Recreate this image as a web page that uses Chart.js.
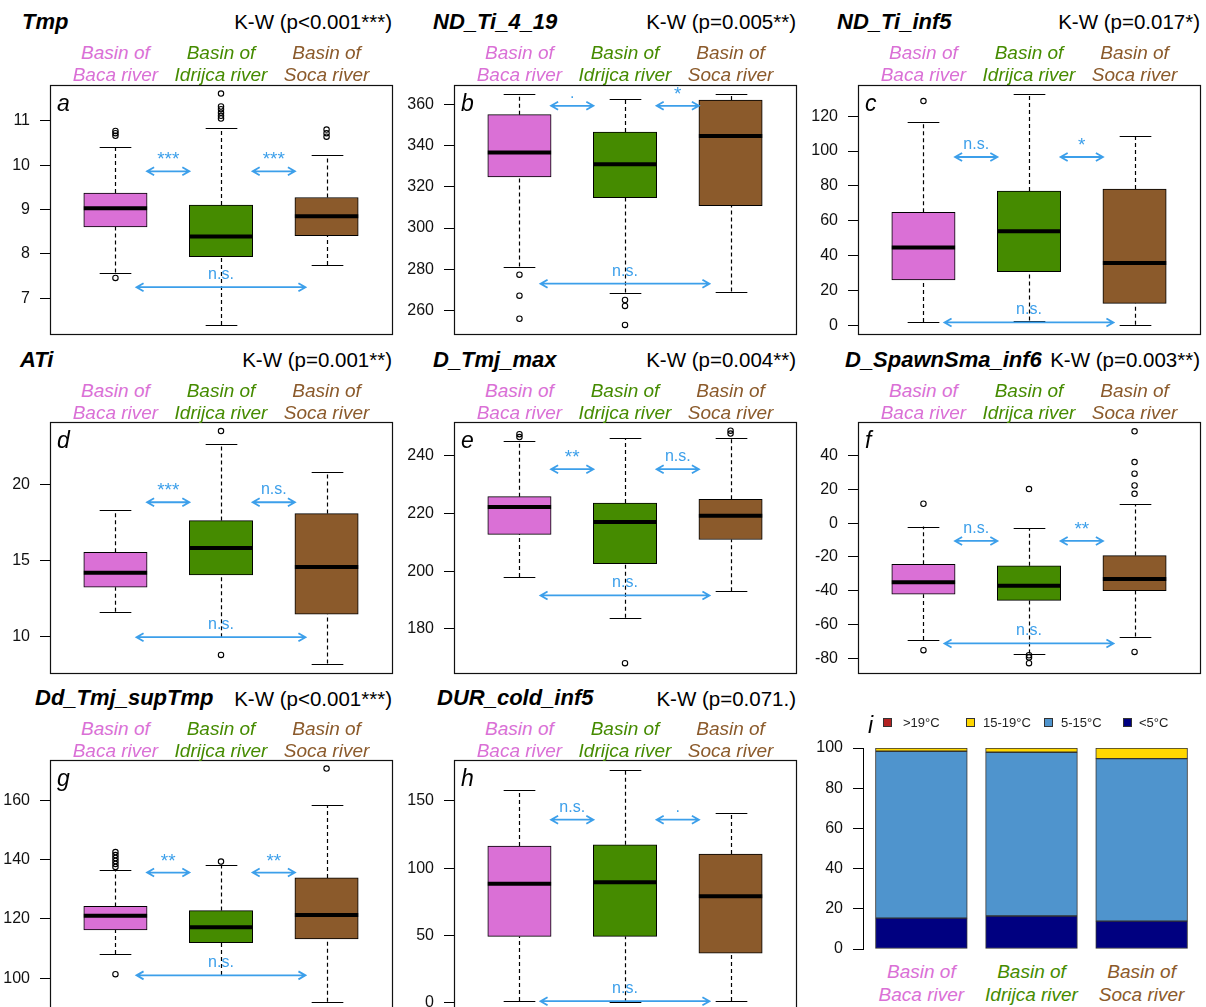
<!DOCTYPE html>
<html>
<head>
<meta charset="utf-8">
<title>Thermal indices by basin</title>
<script src="https://cdn.jsdelivr.net/npm/chart.js@4.4.1/dist/chart.umd.min.js"></script>
<style>
  html, body { margin: 0; padding: 0; background: #fff; }
  body { position: relative; width: 1206px; height: 1007px; overflow: hidden; font-family: "Liberation Sans", Arial, sans-serif; }
  canvas { position: absolute; }
  .txt { position: absolute; white-space: nowrap; }
  .key { position: absolute; width: 9px; height: 9px; border: 1px solid #333; box-sizing: border-box; }
</style>
</head>
<body>
<script>
// ### data ###
const basinLabels = ["Baca river", "Idrijca river", "Soca river"];
const basinX = [1, 2, 3];

const variableNames = ["Tmp", "ND_Ti_4_19", "ND_Ti_inf5", "ATi", "D_Tmj_max", "D_SpawnSma_inf6", "Dd_Tmj_supTmp", "DUR_cold_inf5"];
const kwTests = ["K-W (p<0.001***)", "K-W (p=0.005**)", "K-W (p=0.017*)", "K-W (p=0.001**)", "K-W (p=0.004**)", "K-W (p=0.003**)", "K-W (p<0.001***)", "K-W (p=0.071.)"];
const panelLetters = ["a", "b", "c", "d", "e", "f", "g", "h"];

// box stats per basin: [lower whisker, Q1, median, Q3, upper whisker]
// sig labels: Baca-Idrijca, Idrijca-Soca, Baca-Soca
const tmpBox = [[7.58, 8.61, 9.03, 9.37, 10.41], [6.40, 7.94, 8.39, 9.10, 10.83], [7.75, 8.41, 8.85, 9.27, 10.23]];
const tmpOutliers = [[10.77, 10.72, 10.66, 7.46], [11.61, 11.32, 11.26, 11.18, 11.11, 11.05], [10.80, 10.72, 10.64]];
const tmpSig = ["***", "***", "n.s."];
const tmpArrowY = [9.86, 9.86, 7.25];
const tmpRange = [6.196, 11.804];
const tmpTicks = [7, 8, 9, 10, 11];

const ndTi419Box = [[281.3, 324.8, 336.7, 355.0, 365.0], [268.7, 314.7, 330.9, 346.6, 362.6], [269.2, 310.9, 344.6, 362.1, 365.0]];
const ndTi419Outliers = [[277.4, 267.2, 256.0], [265.1, 262.2, 253.0], []];
const ndTi419Sig = [".", "*", "n.s."];
const ndTi419ArrowY = [359.3, 359.3, 273.0];
const ndTi419Range = [248.6, 369.4];
const ndTi419Ticks = [260, 280, 300, 320, 340, 360];

const ndTiInf5Box = [[2.1, 26.3, 44.8, 65.0, 116.4], [3.0, 31.0, 54.1, 77.1, 132.6], [0.6, 12.8, 36.0, 78.3, 108.8]];
const ndTiInf5Outliers = [[128.6], [], []];
const ndTiInf5Sig = ["n.s.", "*", "n.s."];
const ndTiInf5ArrowY = [96.6, 96.6, 1.9];
const ndTiInf5Range = [-4.7, 137.8];
const ndTiInf5Ticks = [0, 20, 40, 60, 80, 100, 120];

const aTiBox = [[11.61, 13.23, 14.18, 15.53, 18.30], [9.93, 14.03, 15.81, 17.62, 22.66], [8.19, 11.45, 14.56, 18.08, 20.83]];
const aTiOutliers = [[], [23.52, 8.76], []];
const aTiSig = ["***", "n.s.", "n.s."];
const aTiArrowY = [18.83, 18.83, 9.93];
const aTiRange = [7.57, 24.12];
const aTiTicks = [10, 15, 20];

const dTmjMaxBox = [[198.0, 212.7, 222.1, 225.7, 244.9], [183.9, 202.6, 217.0, 223.5, 246.0], [193.0, 210.9, 219.1, 224.8, 246.0]];
const dTmjMaxOutliers = [[247.3, 246.3], [168.2], [248.5, 247.5]];
const dTmjMaxSig = ["**", "n.s.", "n.s."];
const dTmjMaxArrowY = [235.2, 235.2, 191.6];
const dTmjMaxRange = [164.8, 251.5];
const dTmjMaxTicks = [180, 200, 220, 240];

const dSpawnBox = [[-69.1, -42.1, -35.0, -24.3, -2.0], [-77.2, -45.7, -37.0, -25.2, -3.0], [-67.1, -40.0, -33.1, -19.2, 11.3]];
const dSpawnOutliers = [[11.5, -75.2], [20.2, -78.2, -79.5, -82.9], [54.4, 36.2, 29.3, 22.3, 17.4, -76.2]];
const dSpawnSig = ["n.s.", "**", "n.s."];
const dSpawnArrowY = [-10.5, -10.5, -71.2];
const dSpawnRange = [-88.7, 59.9];
const dSpawnTicks = [-80, -60, -40, -20, 0, 20, 40];

const ddTmjBox = [[108.2, 116.3, 121.1, 124.2, 136.4], [101.1, 112.0, 117.2, 122.8, 138.3], [92.1, 113.3, 121.3, 133.8, 158.2]];
const ddTmjOutliers = [[142.5, 141.5, 140.5, 139.5, 138.5, 137.5, 101.4], [139.3], [170.6]];
const ddTmjSig = ["**", "**", "n.s."];
const ddTmjArrowY = [135.6, 135.6, 101.0];
const ddTmjRange = [89.0, 173.5];
const ddTmjTicks = [100, 120, 140, 160];

const durColdBox = [[1.5, 49.3, 88.4, 116.4, 157.7], [0.5, 49.3, 89.6, 117.3, 172.8], [1.5, 36.9, 79.2, 110.4, 140.6]];
const durColdOutliers = [[], [], []];
const durColdSig = ["n.s.", ".", "n.s."];
const durColdArrowY = [135.9, 135.9, 1.3];
const durColdRange = [-6.0, 180.2];
const durColdTicks = [0, 50, 100, 150];

// panel i: share of days per temperature class (%)
const tempClasses = [">19°C", "15-19°C", "5-15°C", "<5°C"];
const barX = [0.7, 1.9, 3.1];
const above19 = [0, 0, 0];
const from15to19 = [1.6, 2.1, 5.3];
const from5to15 = [83.0, 81.5, 80.8];
const below5 = [15.4, 16.4, 13.9];
const pctRange = [0, 100];
const pctTicks = [0, 20, 40, 60, 80, 100];

// ### colors ###
const BLACK = "#000";
const ARROW_BLUE = "#3c9fea";
const BASIN_COLORS = ["#da70d6", "#458b00", "#8b5a2b"];
const CLASS_COLORS = ["#b22222", "#ffd700", "#4f94cd", "#000080"];
const FONT = '"Liberation Sans", Arial, sans-serif';

// ### layout ###
const COL_LEFT = [50, 454, 858];
const ROW_TOP = [85, 422, 760];
const ROW_H = [249, 251, 251];
const PLOT_W = 342;
const AXIS_W = 50;
const PAD = 10;
const X_MIN = 0.38;
const X_MAX = 3.62;
const BOX_W = 0.6;
const ARROW_SPANS = [[1.3, 1.7], [2.3, 2.7], [1.2, 2.8]];
const TITLE_X = [22, 433, 837, 20, 433, 845, 35, 437];
const TITLE_BASE = [29.3, 367.5, 706];
const GROUP_BASE = [[59.3, 81], [397.3, 419.3], [735.3, 757.3]];

Chart.defaults.font.family = FONT;

const panels = [
  { box: tmpBox, outliers: tmpOutliers, sig: tmpSig, arrowY: tmpArrowY, range: tmpRange, ticks: tmpTicks },
  { box: ndTi419Box, outliers: ndTi419Outliers, sig: ndTi419Sig, arrowY: ndTi419ArrowY, range: ndTi419Range, ticks: ndTi419Ticks },
  { box: ndTiInf5Box, outliers: ndTiInf5Outliers, sig: ndTiInf5Sig, arrowY: ndTiInf5ArrowY, range: ndTiInf5Range, ticks: ndTiInf5Ticks },
  { box: aTiBox, outliers: aTiOutliers, sig: aTiSig, arrowY: aTiArrowY, range: aTiRange, ticks: aTiTicks },
  { box: dTmjMaxBox, outliers: dTmjMaxOutliers, sig: dTmjMaxSig, arrowY: dTmjMaxArrowY, range: dTmjMaxRange, ticks: dTmjMaxTicks },
  { box: dSpawnBox, outliers: dSpawnOutliers, sig: dSpawnSig, arrowY: dSpawnArrowY, range: dSpawnRange, ticks: dSpawnTicks },
  { box: ddTmjBox, outliers: ddTmjOutliers, sig: ddTmjSig, arrowY: ddTmjArrowY, range: ddTmjRange, ticks: ddTmjTicks },
  { box: durColdBox, outliers: durColdOutliers, sig: durColdSig, arrowY: durColdArrowY, range: durColdRange, ticks: durColdTicks },
];

// ### helpers ###
function addText(text, x, baseline, size, style, color, align) {
  const el = document.createElement("div");
  el.className = "txt";
  el.textContent = text;
  el.style.font = `${style} ${size}px ${FONT}`;
  el.style.lineHeight = size + "px";
  el.style.left = x + "px";
  el.style.top = baseline - 0.8465 * size + "px";
  el.style.color = color;
  if (align === "center") el.style.transform = "translateX(-50%)";
  if (align === "right") el.style.transform = "translateX(-100%)";
  document.body.appendChild(el);
}

function addCanvas(left, top, width, height) {
  const canvas = document.createElement("canvas");
  canvas.width = width;
  canvas.height = height;
  canvas.style.left = left + "px";
  canvas.style.top = top + "px";
  canvas.style.width = width + "px";
  canvas.style.height = height + "px";
  document.body.appendChild(canvas);
  return canvas;
}

function hLine(ctx, x1, x2, y) {
  ctx.beginPath();
  ctx.moveTo(x1, y);
  ctx.lineTo(x2, y);
  ctx.stroke();
}

function vLine(ctx, x, y1, y2) {
  ctx.beginPath();
  ctx.moveTo(x, y1);
  ctx.lineTo(x, y2);
  ctx.stroke();
}

function drawArrow(ctx, x1, x2, y) {
  const hx = 7;
  const hy = 4;
  ctx.beginPath();
  ctx.moveTo(x1, y);
  ctx.lineTo(x2, y);
  ctx.moveTo(x1 + hx, y - hy);
  ctx.lineTo(x1, y);
  ctx.lineTo(x1 + hx, y + hy);
  ctx.moveTo(x2 - hx, y - hy);
  ctx.lineTo(x2, y);
  ctx.lineTo(x2 - hx, y + hy);
  ctx.stroke();
}

function yAxis(range, ticks, showBorder, padding) {
  return {
    type: "linear",
    min: range[0],
    max: range[1],
    beginAtZero: false,
    afterFit: (scale) => {
      // fixed axis width, and no extra room for the end labels
      scale.width = AXIS_W;
      scale.paddingTop = 0;
      scale.paddingBottom = 0;
    },
    afterBuildTicks: (scale) => {
      scale.ticks = ticks.map((v) => ({ value: v }));
    },
    ticks: { padding: padding, color: "#111", font: { size: 16 }, autoSkip: false },
    grid: { drawOnChartArea: false, drawTicks: true, tickLength: 10, color: BLACK, lineWidth: 1 },
    border: { display: showBorder, color: BLACK, width: 1 },
  };
}

// whiskers, medians, arrows and frame of one box panel
function makeBoxPlugin(p) {
  return {
    id: "boxExtras",
    beforeDatasetsDraw(chart) {
      const { ctx } = chart;
      const { x, y } = chart.scales;
      ctx.save();
      ctx.strokeStyle = BLACK;
      ctx.lineWidth = 1.2;
      p.box.forEach((s, i) => {
        const cx = Math.round(x.getPixelForValue(basinX[i])) + 0.5;
        const half = (x.getPixelForValue(basinX[i] + BOX_W / 4) - x.getPixelForValue(basinX[i]));
        ctx.setLineDash([4, 3]);
        vLine(ctx, cx, y.getPixelForValue(s[0]), y.getPixelForValue(s[1]));
        vLine(ctx, cx, y.getPixelForValue(s[3]), y.getPixelForValue(s[4]));
        ctx.setLineDash([]);
        hLine(ctx, cx - half, cx + half, Math.round(y.getPixelForValue(s[0])) + 0.5);
        hLine(ctx, cx - half, cx + half, Math.round(y.getPixelForValue(s[4])) + 0.5);
      });
      ctx.restore();
    },
    afterDatasetsDraw(chart) {
      const { ctx } = chart;
      const { x, y } = chart.scales;
      ctx.save();
      ctx.strokeStyle = BLACK;
      ctx.lineWidth = 4;
      p.box.forEach((s, i) => {
        const x1 = x.getPixelForValue(basinX[i] - BOX_W / 2);
        const x2 = x.getPixelForValue(basinX[i] + BOX_W / 2);
        hLine(ctx, x1, x2, y.getPixelForValue(s[2]));
      });
      ctx.strokeStyle = ARROW_BLUE;
      ctx.fillStyle = ARROW_BLUE;
      ctx.lineWidth = 1.8;
      ctx.textAlign = "center";
      ctx.textBaseline = "alphabetic";
      ARROW_SPANS.forEach((span, k) => {
        const x1 = x.getPixelForValue(span[0]);
        const x2 = x.getPixelForValue(span[1]);
        const yy = y.getPixelForValue(p.arrowY[k]);
        drawArrow(ctx, x1, x2, yy);
        // asterisks are set a little larger so they read like the original glyphs
        const stars = p.sig[k].includes("*");
        ctx.font = `${stars ? 19 : 16}px ${FONT}`;
        ctx.fillText(p.sig[k], (x1 + x2) / 2, yy - (stars ? 6 : 8));
      });
      ctx.restore();
    },
    afterDraw(chart) {
      const { ctx, chartArea } = chart;
      ctx.save();
      ctx.strokeStyle = "#111";
      ctx.lineWidth = 1.2;
      ctx.strokeRect(Math.round(chartArea.left) + 0.5, Math.round(chartArea.top) + 0.5,
        Math.round(chartArea.right - chartArea.left), Math.round(chartArea.bottom - chartArea.top));
      ctx.restore();
    },
  };
}

// ### rendering ###
function renderBoxPanel(p, idx) {
  const col = idx % 3;
  const row = Math.floor(idx / 3);
  const left = COL_LEFT[col];
  const top = ROW_TOP[row];
  const h = ROW_H[row];
  const canvas = addCanvas(left - AXIS_W, top - PAD, AXIS_W + PLOT_W + PAD, h + 2 * PAD);
  const pxPerUnit = PLOT_W / (X_MAX - X_MIN);

  new Chart(canvas, {
    type: "bar",
    data: {
      datasets: [
        {
          type: "bar",
          data: p.box.map((s, i) => ({ x: basinX[i], y: [s[1], s[3]] })),
          backgroundColor: BASIN_COLORS,
          borderColor: BLACK,
          borderWidth: 1,
          borderSkipped: false,
          barThickness: pxPerUnit * BOX_W,
          order: 2,
        },
        {
          type: "scatter",
          data: p.outliers.flatMap((list, i) => list.map((v) => ({ x: basinX[i], y: v }))),
          pointRadius: 2.7,
          pointBorderWidth: 1.1,
          pointBorderColor: BLACK,
          pointBackgroundColor: "rgba(0,0,0,0)",
          order: 1,
        },
      ],
    },
    options: {
      responsive: false,
      animation: false,
      events: [],
      layout: { padding: { left: 0, right: PAD, top: PAD, bottom: PAD } },
      plugins: { legend: { display: false }, tooltip: { enabled: false } },
      scales: {
        x: { type: "linear", min: X_MIN, max: X_MAX, offset: false, display: false },
        y: yAxis(p.range, p.ticks, false, 10),
      },
    },
    plugins: [makeBoxPlugin(p)],
  });

  // titles and group labels
  addText(variableNames[idx], TITLE_X[idx], TITLE_BASE[row], 22, "italic bold", "#000", "left");
  addText(kwTests[idx], left + PLOT_W, TITLE_BASE[row], 20.5, "normal", "#000", "right");
  basinLabels.forEach((label, i) => {
    const cx = left + (basinX[i] - X_MIN) * pxPerUnit;
    addText("Basin of", cx, GROUP_BASE[row][0], 19, "italic", BASIN_COLORS[i], "center");
    addText(label, cx, GROUP_BASE[row][1], 19, "italic", BASIN_COLORS[i], "center");
  });
  addText(panelLetters[idx], left + 7, top + 26, 23, "italic", "#000", "left");
}

function renderClassPanel() {
  const left = 863;
  const top = 748;
  const w = 337;
  const h = 201;
  const xMin = 0.064;
  const xMax = 3.736;
  const pxPerUnit = w / (xMax - xMin);
  const canvas = addCanvas(left - AXIS_W, top - PAD, AXIS_W + w + PAD, h + 2 * PAD);
  const series = [below5, from5to15, from15to19, above19];
  const colors = [CLASS_COLORS[3], CLASS_COLORS[2], CLASS_COLORS[1], CLASS_COLORS[0]];
  const names = [tempClasses[3], tempClasses[2], tempClasses[1], tempClasses[0]];

  new Chart(canvas, {
    type: "bar",
    data: {
      datasets: series.map((values, k) => ({
        label: names[k],
        data: values.map((v, i) => ({ x: barX[i], y: v })),
        backgroundColor: colors[k],
        borderColor: "#333",
        borderWidth: 1,
        borderSkipped: false,
        barThickness: pxPerUnit * 1.0,
      })),
    },
    options: {
      responsive: false,
      animation: false,
      events: [],
      layout: { padding: { left: 0, right: PAD, top: PAD, bottom: PAD } },
      plugins: { legend: { display: false }, tooltip: { enabled: false } },
      scales: {
        x: { type: "linear", min: xMin, max: xMax, offset: false, display: false, stacked: true },
        y: Object.assign(yAxis(pctRange, pctTicks, true, 10), { stacked: true }),
      },
    },
  });

  // legend row
  const keyX = [883, 966, 1044, 1123];
  const labelX = [903, 983, 1061, 1139];
  tempClasses.forEach((name, k) => {
    const key = document.createElement("div");
    key.className = "key";
    key.style.left = keyX[k] + "px";
    key.style.top = "718px";
    key.style.background = CLASS_COLORS[k];
    document.body.appendChild(key);
    addText(name, labelX[k], 727.3, 13, "normal", "#222", "left");
  });
  addText("i", 868, 733, 23, "italic", "#000", "left");

  basinLabels.forEach((label, i) => {
    const cx = left + (barX[i] - xMin) * pxPerUnit;
    addText("Basin of", cx, 978.3, 19, "italic", BASIN_COLORS[i], "center");
    addText(label, cx, 1000.7, 19, "italic", BASIN_COLORS[i], "center");
  });
}

// ### application start ###
panels.forEach((p, idx) => renderBoxPanel(p, idx));
renderClassPanel();
</script>
</body>
</html>
